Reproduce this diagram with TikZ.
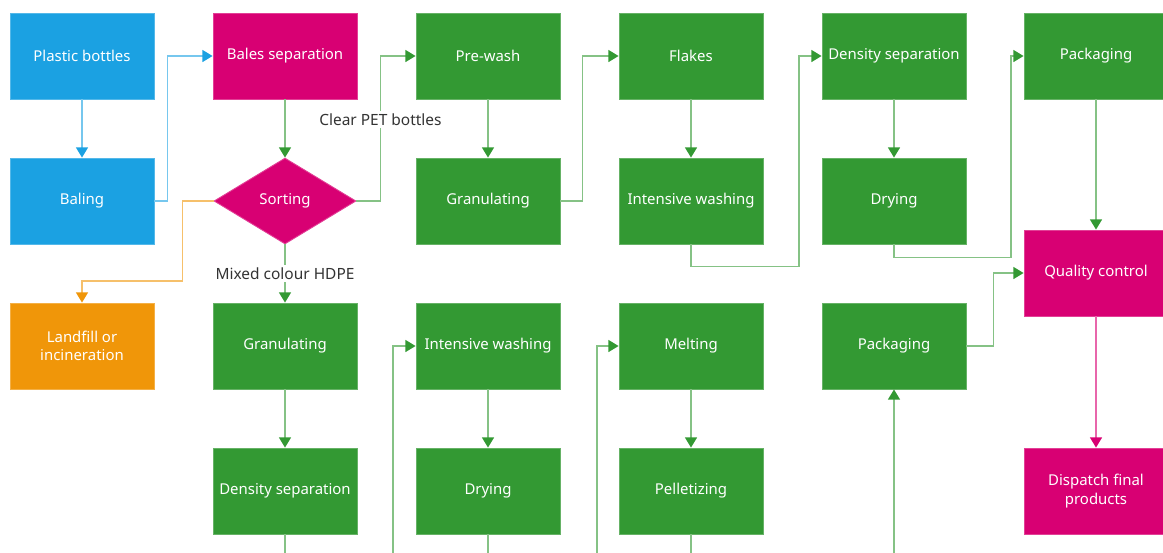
\documentclass[tikz,border=0pt]{standalone}
\usepackage{fontspec}
\setmainfont{Noto Sans}
\usetikzlibrary{positioning, arrows.meta, shapes.geometric}
\definecolor{sBlue}{HTML}{1BA1E2}
\definecolor{sMagenta}{HTML}{D80073}
\definecolor{sGreen}{HTML}{339933}
\definecolor{sOrange}{HTML}{F09609}
\definecolor{sText}{HTML}{333333}
\tikzset{
  stepbox/.style={fill=#1, draw=#1!75!white, line width=0.5pt, text=white,
    font=\fontsize{8.5}{10.5}\selectfont, minimum width=2.88cm, minimum height=1.72cm,
    inner sep=2pt, align=center},
  decision/.style={diamond, fill=sMagenta, draw=sMagenta!75!white, line width=0.5pt, text=white,
    font=\fontsize{8.5}{10.5}\selectfont, minimum width=2.84cm, minimum height=1.72cm, inner sep=0pt},
  flow/.style={draw=#1!60!white, line width=0.85pt,
    -{Triangle[length=5.8pt, width=6.8pt, color=#1]}},
  lbl/.style={fill=white, text=sText, font=\fontsize{8.8}{10}\selectfont, inner sep=1.5pt}
}

\begin{document}
\begin{tikzpicture}[x=0.02cm, y=-0.02cm]
  \clip (0,0) rectangle (1163,552);
  % first column
  \node[stepbox=sBlue] (bottles) at (82,56) {Plastic bottles};
  \node[stepbox=sBlue] (baling) at (82,201) {Baling};
  \node[stepbox=sOrange] (landfill) at (82,346) {Landfill or\\incineration};
  % sorting
  \node[stepbox=sMagenta] (bales) at (285,56) {Bales separation};
  \node[decision] (sorting) at (285,201) {Sorting};
  \node[stepbox=sGreen] (hgran) at (285,346) {Granulating};
  \node[stepbox=sGreen] (hdens) at (285,491) {Density separation};
  % PET line, top rows
  \node[stepbox=sGreen] (prewash) at (488,56) {Pre-wash};
  \node[stepbox=sGreen] (pgran) at (488,201) {Granulating};
  \node[stepbox=sGreen] (flakes) at (691,56) {Flakes};
  \node[stepbox=sGreen] (pwash) at (691,201) {Intensive washing};
  \node[stepbox=sGreen] (pdens) at (894,56) {Density separation};
  \node[stepbox=sGreen] (pdry) at (894,201) {Drying};
  \node[stepbox=sGreen] (ppack) at (1096,56) {Packaging};
  % HDPE line, bottom rows
  \node[stepbox=sGreen] (hwash) at (488,346) {Intensive washing};
  \node[stepbox=sGreen] (hdry) at (488,491) {Drying};
  \node[stepbox=sGreen] (melt) at (691,346) {Melting};
  \node[stepbox=sGreen] (pellet) at (691,491) {Pelletizing};
  \node[stepbox=sGreen] (hpack) at (894,346) {Packaging};
  % final
  \node[stepbox=sMagenta] (qc) at (1096,273) {Quality control};
  \node[stepbox=sMagenta] (dispatch) at (1096,491) {Dispatch final\\products};

  \draw[flow=sBlue] (bottles) -- (baling);
  \draw[flow=sBlue] (baling.east) -- ++(13,0) |- (bales.west);
  \draw[flow=sGreen] (bales) -- (sorting);
  \draw[flow=sGreen] (sorting.east) -- ++(24,0) |- node[lbl, pos=0.28] {Clear PET bottles} (prewash.west);
  \draw[flow=sOrange] (sorting.west) -- ++(-31,0) -- ++(0,80) -| (landfill.north);
  \draw[flow=sGreen] (sorting) -- node[lbl] {Mixed colour HDPE} (hgran);
  \draw[flow=sGreen] (prewash) -- (pgran);
  \draw[flow=sGreen] (pgran.east) -- ++(22,0) |- (flakes.west);
  \draw[flow=sGreen] (flakes) -- (pwash);
  \draw[flow=sGreen] (pwash.south) -- ++(0,22) -- ++(108,0) |- (pdens.west);
  \draw[flow=sGreen] (pdens) -- (pdry);
  \draw[flow=sGreen] (pdry.south) -- ++(0,13) -- ++(117,0) |- (ppack.west);
  \draw[flow=sGreen] (ppack) -- (qc);
  \draw[flow=sGreen] (hpack.east) -- ++(27,0) |- (qc.west);
  \draw[flow=sMagenta] (qc) -- (dispatch);
  \draw[flow=sGreen] (hgran) -- (hdens);
  \draw[flow=sGreen] (hdens.south) -- ++(0,47) -- ++(108,0) |- (hwash.west);
  \draw[flow=sGreen] (hwash) -- (hdry);
  \draw[flow=sGreen] (hdry.south) -- ++(0,47) -- ++(109,0) |- (melt.west);
  \draw[flow=sGreen] (melt) -- (pellet);
  \draw[flow=sGreen] (pellet.south) -- ++(0,47) -| (hpack.south);
\end{tikzpicture}
\end{document}
